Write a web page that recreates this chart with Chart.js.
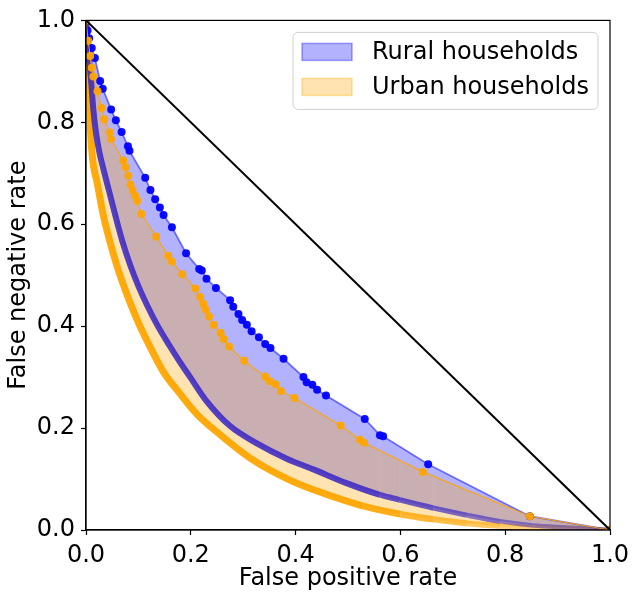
<!DOCTYPE html>
<html>
<head>
<meta charset="utf-8">
<script src="https://cdn.jsdelivr.net/npm/chart.js@4.4.1/dist/chart.umd.min.js"></script>
<style>
  html, body { margin: 0; padding: 0; background: #fff; }
  canvas { display: block; }
</style>
</head>
<body>
<canvas id="roc" width="640" height="601"></canvas>
<script>
// Upper boundary (markers) of the rural band
const ruralUpperX = [0, 0.003, 0.006, 0.011, 0.017, 0.027, 0.032, 0.048, 0.057, 0.068, 0.080, 0.083, 0.113, 0.123, 0.132, 0.141, 0.148, 0.164, 0.191, 0.216, 0.221, 0.230, 0.248, 0.275, 0.281, 0.291, 0.298, 0.307, 0.316, 0.330, 0.342, 0.352, 0.377, 0.415, 0.421, 0.432, 0.441, 0.458, 0.532, 0.561, 0.567, 0.653, 0.847, 1];
const ruralUpperY = [1, 0.980, 0.965, 0.946, 0.926, 0.881, 0.866, 0.825, 0.804, 0.781, 0.753, 0.744, 0.691, 0.667, 0.649, 0.633, 0.618, 0.594, 0.543, 0.512, 0.509, 0.493, 0.475, 0.451, 0.438, 0.424, 0.412, 0.403, 0.390, 0.378, 0.365, 0.357, 0.336, 0.300, 0.290, 0.285, 0.275, 0.264, 0.218, 0.186, 0.184, 0.129, 0.027, 0];

// Lower boundary (dense curve) of the rural band
const ruralLowerX = [0, 0.002, 0.005, 0.009, 0.014, 0.019, 0.025, 0.034, 0.044, 0.057, 0.069, 0.085, 0.101, 0.117, 0.136, 0.158, 0.179, 0.200, 0.230, 0.275, 0.326, 0.383, 0.434, 0.497, 0.561, 0.599, 0.663, 0.727, 0.790, 0.854, 0.917, 1];
const ruralLowerY = [1, 0.960, 0.930, 0.890, 0.825, 0.780, 0.744, 0.705, 0.665, 0.613, 0.568, 0.518, 0.476, 0.440, 0.402, 0.364, 0.330, 0.298, 0.253, 0.204, 0.170, 0.140, 0.119, 0.092, 0.069, 0.059, 0.043, 0.029, 0.017, 0.009, 0.005, 0];

// Upper boundary (markers) of the urban band
const urbanUpperX = [0, 0.004, 0.008, 0.011, 0.014, 0.022, 0.030, 0.035, 0.046, 0.048, 0.071, 0.076, 0.081, 0.085, 0.089, 0.094, 0.098, 0.106, 0.134, 0.157, 0.164, 0.184, 0.209, 0.218, 0.224, 0.229, 0.235, 0.244, 0.257, 0.263, 0.273, 0.302, 0.342, 0.351, 0.362, 0.372, 0.398, 0.486, 0.523, 0.531, 0.643, 0.847, 1];
const urbanUpperY = [1, 0.960, 0.930, 0.907, 0.890, 0.861, 0.828, 0.806, 0.780, 0.767, 0.725, 0.712, 0.695, 0.678, 0.667, 0.656, 0.646, 0.620, 0.576, 0.538, 0.527, 0.502, 0.474, 0.457, 0.444, 0.432, 0.419, 0.403, 0.387, 0.375, 0.360, 0.332, 0.301, 0.292, 0.286, 0.273, 0.259, 0.205, 0.177, 0.171, 0.114, 0.027, 0];

// Lower boundary (dense curve) of the urban band
const urbanLowerX = [0, 0.001, 0.003, 0.006, 0.011, 0.022, 0.034, 0.047, 0.060, 0.076, 0.092, 0.103, 0.125, 0.148, 0.179, 0.211, 0.256, 0.319, 0.389, 0.453, 0.529, 0.600, 0.663, 0.727, 0.790, 0.885, 1];
const urbanLowerY = [1, 0.970, 0.943, 0.845, 0.745, 0.678, 0.613, 0.561, 0.515, 0.468, 0.426, 0.400, 0.354, 0.310, 0.268, 0.228, 0.187, 0.137, 0.098, 0.072, 0.047, 0.031, 0.021, 0.013, 0.008, 0.004, 0];

const diagonalX = [0, 1];
const diagonalY = [1, 0];

const seriesLabels = ['Rural households', 'Urban households'];
const tickValues = [0, 0.2, 0.4, 0.6, 0.8, 1.0];

const BLUE_FILL = 'rgba(0, 0, 255, 0.3)';
const ORANGE_FILL = 'rgba(255, 165, 0, 0.3)';

const pts = (xs, ys) => xs.map((x, i) => ({ x, y: ys[i] }));

Chart.defaults.font.family = '"DejaVu Sans", sans-serif';
Chart.defaults.font.size = 24;
Chart.defaults.color = '#000';

// matplotlib-like frame around the plot area
const framePlugin = {
  id: 'frame',
  afterDatasetsDraw(chart) {
    const { ctx, chartArea: a } = chart;
    ctx.save();
    ctx.strokeStyle = '#000';
    ctx.lineWidth = 1.2;
    ctx.strokeRect(a.left, a.top, a.right - a.left, a.bottom - a.top);
    ctx.restore();
  }
};

// legend box in the upper right corner, like matplotlib's
const legendPlugin = {
  id: 'boxLegend',
  afterDraw(chart) {
    const { ctx, chartArea: a } = chart;
    const w = 305, h = 77;
    const left = a.right - 12 - w, top = a.top + 12;
    ctx.save();
    ctx.beginPath();
    ctx.roundRect(left, top, w, h, 5);
    ctx.fillStyle = 'rgba(255,255,255,0.8)';
    ctx.fill();
    ctx.strokeStyle = '#d0d0d0';
    ctx.lineWidth = 1;
    ctx.stroke();
    const fills = [BLUE_FILL, ORANGE_FILL];
    const edges = ['rgba(0,0,255,0.35)', 'rgba(255,165,0,0.35)'];
    seriesLabels.forEach((label, i) => {
      const y = top + 11 + i * 35;
      ctx.fillStyle = fills[i];
      ctx.fillRect(left + 9, y, 50, 17);
      ctx.strokeStyle = edges[i];
      ctx.lineWidth = 1.5;
      ctx.strokeRect(left + 9, y, 50, 17);
      ctx.fillStyle = '#000';
      ctx.font = '24px "DejaVu Sans", sans-serif';
      ctx.textBaseline = 'middle';
      ctx.textAlign = 'left';
      ctx.fillText(label, left + 79, y + 9);
    });
    ctx.restore();
  }
};

const axisCommon = {
  type: 'linear',
  min: 0,
  max: 1,
  afterBuildTicks(scale) {
    scale.ticks = tickValues.map(v => ({ value: v }));
  },
  grid: {
    display: true,
    drawOnChartArea: false,
    drawTicks: true,
    tickLength: 5,
    color: '#000',
    tickColor: '#000',
    tickWidth: 1.2
  },
  border: { display: true, color: '#000', width: 1.2 }
};

// the dense curves fade and thin out towards the right-hand end
const fade = (rgb, aFrom, aTo, wFrom, wTo) => {
  const k = c => Math.min(1, Math.max(0, (c.p0.parsed.x - 0.5) / 0.3));
  return {
    borderColor: c => `rgba(${rgb}, ${(aFrom + (aTo - aFrom) * k(c)).toFixed(3)})`,
    borderWidth: c => wFrom + (wTo - wFrom) * k(c)
  };
};

new Chart(document.getElementById('roc'), {
  type: 'line',
  data: {
    datasets: [
      {
        label: seriesLabels[0],
        data: pts(ruralUpperX, ruralUpperY),
        borderColor: 'rgba(0, 0, 255, 0.5)',
        borderWidth: 1.8,
        backgroundColor: BLUE_FILL,
        pointBackgroundColor: 'rgba(0, 0, 255, 0.95)',
        pointBorderWidth: 0,
        pointRadius: 4,
        fill: { target: 1 },
        order: 2
      },
      {
        label: 'rural lower',
        data: pts(ruralLowerX, ruralLowerY),
        borderColor: 'rgba(55, 35, 195, 0.85)',
        borderWidth: 6,
        cubicInterpolationMode: 'monotone',
        segment: fade('55, 35, 195', 0.85, 0.5, 6, 4.5),
        pointRadius: 0,
        fill: false,
        order: 3
      },
      {
        label: seriesLabels[1],
        data: pts(urbanUpperX, urbanUpperY),
        borderColor: 'rgba(255, 165, 0, 0.9)',
        borderWidth: 1.2,
        backgroundColor: ORANGE_FILL,
        pointBackgroundColor: 'rgba(255, 165, 0, 0.95)',
        pointBorderWidth: 0,
        pointRadius: 4,
        fill: { target: 3 },
        order: 1
      },
      {
        label: 'urban lower',
        data: pts(urbanLowerX, urbanLowerY),
        borderColor: 'rgba(255, 165, 0, 0.95)',
        borderWidth: 7,
        cubicInterpolationMode: 'monotone',
        segment: fade('255, 165, 0', 0.95, 0.5, 7, 5.5),
        pointRadius: 0,
        fill: false,
        order: 4
      },
      {
        label: 'chance',
        data: pts(diagonalX, diagonalY),
        borderColor: '#000',
        borderWidth: 2,
        pointRadius: 0,
        fill: false,
        order: 0
      }
    ]
  },
  options: {
    responsive: false,
    animation: false,
    devicePixelRatio: 1,
    layout: { padding: { top: 19, right: 30, left: 0, bottom: 0 } },
    plugins: {
      legend: { display: false },
      tooltip: { enabled: false },
      filler: { drawTime: 'beforeDatasetsDraw' }
    },
    scales: {
      x: {
        ...axisCommon,
        position: 'bottom',
        afterFit(scale) { scale.height = 71; },
        ticks: { padding: 6, maxRotation: 0, callback: v => v.toFixed(1) },
        title: { display: true, text: 'False positive rate', padding: { top: 2, bottom: 8 } }
      },
      y: {
        ...axisCommon,
        position: 'left',
        afterFit(scale) { scale.width = 86; },
        ticks: { padding: 6, callback: v => v.toFixed(1) },
        title: { display: true, text: 'False negative rate', padding: { top: 4, bottom: 2 } }
      }
    }
  },
  plugins: [framePlugin, legendPlugin]
});
</script>
</body>
</html>
